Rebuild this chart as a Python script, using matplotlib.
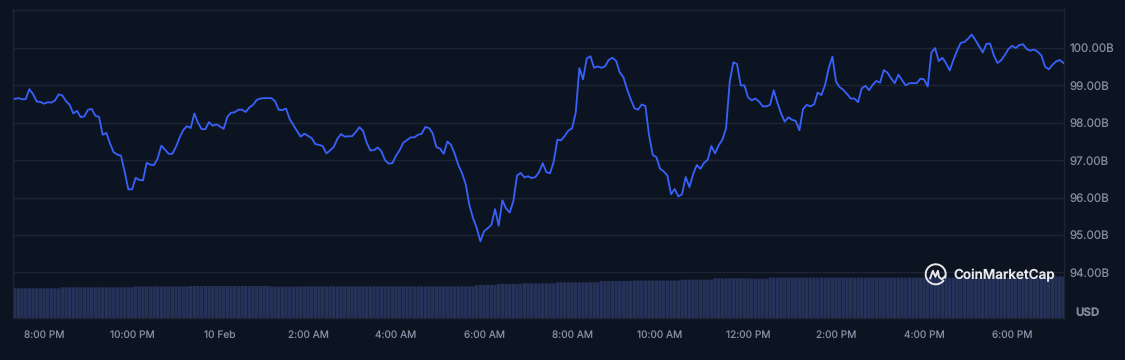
import numpy as np
import matplotlib
matplotlib.use('Agg')
import matplotlib.pyplot as plt
from matplotlib.patches import Arc

# price in billions USD, one sample every 5 minutes
price = [
    98.64, 98.66, 98.63, 98.63, 98.90, 98.77, 98.57, 98.56, 98.51, 98.55, 98.54, 98.60,
    98.76, 98.73, 98.58, 98.48, 98.25, 98.32, 98.15, 98.17, 98.35, 98.37, 98.19, 98.16,
    97.68, 97.73, 97.45, 97.21, 97.15, 97.12, 96.69, 96.22, 96.22, 96.53, 96.47, 96.46,
    96.93, 96.88, 96.87, 97.05, 97.39, 97.28, 97.17, 97.17, 97.36, 97.61, 97.81, 97.91,
    97.86, 98.25, 98.00, 97.83, 97.83, 98.02, 97.92, 97.96, 97.90, 97.84, 98.16, 98.27,
    98.28, 98.35, 98.35, 98.29, 98.41, 98.48, 98.61, 98.65, 98.66, 98.66, 98.66, 98.58,
    98.35, 98.34, 98.38, 98.10, 97.94, 97.78,
    97.63, 97.71, 97.65, 97.59, 97.43, 97.41, 97.38, 97.18, 97.26, 97.35, 97.57, 97.70,
    97.63, 97.64, 97.64, 97.75, 97.88, 97.79, 97.47, 97.26, 97.27, 97.34, 97.24, 97.00,
    96.91, 96.92, 97.12, 97.27, 97.47, 97.54, 97.61, 97.61, 97.68, 97.71, 97.89, 97.86,
    97.72, 97.35, 97.31, 97.17, 97.50, 97.41, 97.17, 96.87, 96.65, 96.36, 95.80, 95.45,
    95.19, 94.83, 95.10, 95.18, 95.27, 95.69, 95.25, 95.93, 95.71, 95.60, 95.91, 96.59,
    96.66, 96.54, 96.57, 96.52, 96.55, 96.68, 96.92, 96.68, 96.65, 96.96, 97.55, 97.53,
    97.65, 97.79, 97.85, 98.27,
    99.46, 99.16, 99.72, 99.78, 99.47, 99.51, 99.47, 99.51, 99.68, 99.74, 99.66, 99.35,
    99.22, 98.90, 98.63, 98.39, 98.35, 98.49, 98.45, 97.67, 97.14, 97.08, 96.77, 96.70,
    96.59, 96.09, 96.23, 96.03, 96.09, 96.55, 96.28, 96.62, 96.87, 96.77, 96.93, 97.01,
    97.38, 97.18, 97.40, 97.55, 97.85, 99.10, 99.62, 99.57, 99.00, 99.00, 98.68, 98.60,
    98.65, 98.57, 98.44, 98.44, 98.48, 98.87, 98.54, 98.25, 98.03, 98.15, 98.08, 98.05,
    97.80, 98.37, 98.48, 98.44, 98.49, 98.81, 98.74, 99.01, 99.46, 99.77, 99.10, 98.95,
    98.88, 98.77, 98.65, 98.65, 98.55, 98.92, 98.99, 98.87, 99.02, 99.12, 99.07, 99.41,
    99.34, 99.19, 99.06, 99.29, 99.14, 99.00, 99.06, 99.06, 99.06, 99.18, 99.16, 98.97,
    99.88, 100.00, 99.65, 99.74, 99.59, 99.40, 99.68, 99.93, 100.14, 100.16, 100.25, 100.36,
    100.21, 100.05, 99.88, 100.11, 100.12, 99.81, 99.60, 99.67, 99.81, 99.97, 100.06, 100.00,
    100.08, 100.10, 99.97, 99.93, 99.96, 99.90, 99.80, 99.50, 99.43, 99.55, 99.64, 99.68,
    99.60,
]

# volume bars, read as flat runs (value, number of samples)
volume_runs = [
    (29.7, 13), (30.7, 20), (31.6, 15), (32.0, 22), (31.4, 8), (31.7, 48), (33.0, 6),
    (34.0, 7), (34.7, 9), (35.7, 12), (37.0, 9), (37.5, 13), (38.3, 9), (39.7, 10),
    (39.3, 5), (40.3, 77), (41.5, 4),
]
volume = [v for v, n in volume_runs for _ in range(n)]

price_ticks = [94, 95, 96, 97, 98, 99, 100]
time_ticks = [8, 32, 56, 80, 104, 128, 152, 176, 200, 224, 248, 272]
time_labels = ['8:00 PM', '10:00 PM', '10 Feb', '2:00 AM', '4:00 AM', '6:00 AM',
               '8:00 AM', '10:00 AM', '12:00 PM', '2:00 PM', '4:00 PM', '6:00 PM']

BG = '#0d1421'
GRID = '#1e2532'
TEXT = '#858ca2'
FW, FH = 1125, 360

plt.rcParams['font.family'] = ['Inter', 'DejaVu Sans']
plt.rcParams['text.hinting'] = 'no_hinting'
plt.rcParams['text.hinting_factor'] = 1

fig = plt.figure(figsize=(FW / 100, FH / 100), dpi=100, facecolor=BG)
rect = [13 / FW, 1 - 318 / FH, 1051 / FW, 308.5 / FH]

x = np.arange(len(price))
xlim = (-0.455, 286.16)

# volume sits in its own axes under the price line
ax_vol = fig.add_axes(rect, zorder=1, facecolor=BG)
bars = ax_vol.bar(np.arange(len(volume)), volume, width=0.9, color='#27325a', linewidth=0)
for b in bars:
    b.set_snap(False)
ax_vol.set_xlim(xlim)
ax_vol.set_ylim(0, 308.5)
ax_vol.set_xticks([])
ax_vol.set_yticks([])
for s in ax_vol.spines.values():
    s.set_visible(False)

ax = fig.add_axes(rect, zorder=2)
ax.patch.set_visible(False)
ax.plot(x, price, color='#3861fb', lw=1.3, solid_joinstyle='round', zorder=3)
ax.set_xlim(xlim)
ax.set_ylim(92.78, 101.03)

ax.yaxis.tick_right()
ax.set_yticks(price_ticks)
ax.set_yticklabels([f'{v:.2f}B' for v in price_ticks])
ax.set_xticks(time_ticks)
ax.set_xticklabels(time_labels)
ax.tick_params(axis='both', length=0, labelcolor=TEXT)
ax.tick_params(axis='x', pad=8.5, labelsize=7.3)
ax.tick_params(axis='y', pad=4.2, labelsize=8.3)
ax.grid(True, axis='y', color=GRID, lw=1.0)

for s in ax.spines.values():
    s.set_color(GRID)
    s.set_linewidth(1.0)

fig.text(1088 / FW, 1 - 313 / FH, 'USD', color=TEXT, fontsize=8.3, fontweight='bold',
         ha='center', va='center', zorder=5)

# watermark logo, drawn in pixel coordinates
logo = fig.add_axes([0, 0, 1, 1], zorder=4)
logo.set_xlim(0, FW)
logo.set_ylim(FH, 0)
logo.axis('off')
cx, cy = 935.7, 274.3
logo.add_patch(Arc((cx, cy), 20, 20, theta1=35, theta2=385, color='#e6e8ec', lw=1.4))
logo.plot(cx + np.array([-5.5, -2.8, -0.3, 2.2, 3.2, 6.0, 9.4]),
          cy + np.array([4.0, -3.5, 2.5, -3.5, 2.5, 5.0, 2.0]),
          color='#e6e8ec', lw=1.4, solid_joinstyle='round')
fig.text(953 / FW, 1 - 275.5 / FH, 'CoinMarketCap', color='#e6e8ec', fontsize=9.7,
         fontweight='semibold', ha='left', va='center', zorder=5)

fig.savefig('out.png', dpi=100, facecolor=BG)
